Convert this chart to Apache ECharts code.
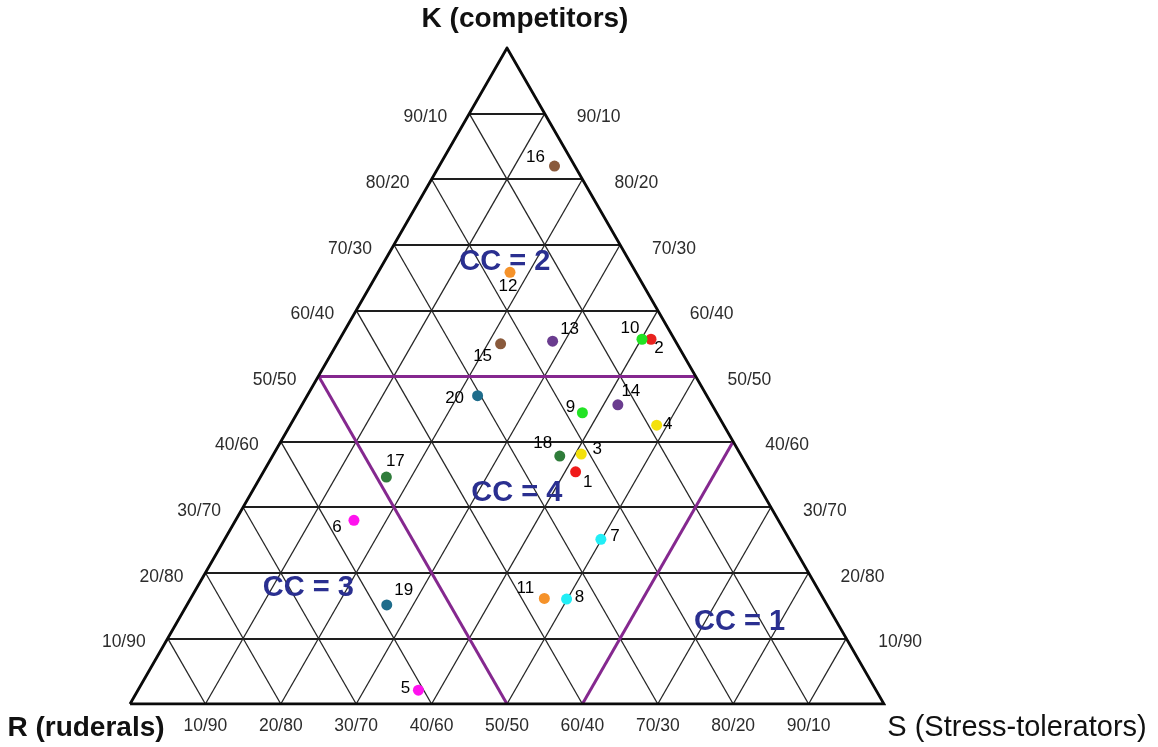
<!DOCTYPE html>
<html>
<head>
<meta charset="utf-8">
<script src="https://cdn.jsdelivr.net/npm/echarts@6/dist/echarts.min.js"></script>
<style>
  html, body { margin: 0; padding: 0; background: #ffffff; }
  #chart { width: 1158px; height: 747px; }
</style>
</head>
<body>
<div id="chart"></div>
<script>
// CSR triangle: K (competitors), R (ruderals), S (stress-tolerators), in percent.
const speciesIds = [1, 2, 3, 4, 5, 6, 7, 8, 9, 10, 11, 12, 13, 14, 15, 16, 17, 18, 19, 20];
const kValues = [35.4, 55.6, 38.1, 42.5, 2.1, 28.0, 25.1, 16.0, 44.4, 55.6, 16.1, 65.8, 55.3, 45.6, 54.9, 82.0, 34.6, 37.8, 15.1, 47.0];
const sValues = [41.4, 41.3, 40.8, 48.6, 37.2, 15.7, 49.9, 49.9, 37.8, 40.1, 46.9, 17.5, 28.4, 41.9, 21.7, 15.3, 16.7, 38.1, 26.5, 22.6];
const rValues = [23.2, 3.1, 21.1, 8.9, 60.7, 56.3, 25.0, 34.1, 17.8, 4.3, 37.0, 16.7, 16.3, 12.5, 23.4, 2.7, 48.7, 24.1, 58.4, 30.4];

// Gridline levels and their tick labels (value / complement)
const tickValues = [10, 20, 30, 40, 50, 60, 70, 80, 90];
const tickLabels = ['10/90', '20/80', '30/70', '40/60', '50/50', '60/40', '70/30', '80/20', '90/10'];

// Competition-class regions: name with a ternary anchor (K, S)
const regionNames = ['CC = 2', 'CC = 4', 'CC = 3', 'CC = 1'];
const regionK = [67.4, 32.2, 17.7, 12.5];
const regionS = [16.0, 35.2, 14.8, 74.6];

// Corner titles
const cornerTitles = ['K (competitors)', 'R (ruderals)', 'S (Stress-tolerators)'];

// ---- styling ----
const pointColors = ['#f01a1a', '#e8221e', '#f4e10c', '#f4e10c', '#ff12ee', '#ff12ee', '#22eef6', '#22eef6',
  '#22e324', '#22e324', '#f5922a', '#f5922a', '#6a3c8f', '#6a3c8f', '#8a5a3c', '#8a5a3c',
  '#2f7c3a', '#2f7c3a', '#1e6c8b', '#1e6c8b'];
const labelNudge = {
  1: [12, 11], 2: [8, 9], 3: [16, -5], 4: [11, -1], 5: [-13, -2], 6: [-17, 7], 7: [14, -3],
  8: [13, -2], 9: [-12, -5], 10: [-12, -11], 11: [-19, -10], 12: [-2, 14], 13: [17, -12],
  14: [13, -14], 15: [-18, 12], 16: [-19, -9], 17: [9, -16], 18: [-17, -13], 19: [17, -15], 20: [-23, 3]
};

// ternary (K, S, R) -> plane (x along base toward S, y = K height)
function toXY(k, s, r) {
  const t = k + s + (r === undefined ? 100 - k - s : r);
  const kk = k / t * 100, ss = s / t * 100;
  return [ss + kk / 2, kk];
}

// interior grid
const hLines = tickValues.map(k => ({ coords: [toXY(k, 0), toXY(k, 100 - k)] }));
const sLines = tickValues.map(s => ({ coords: [toXY(0, s), toXY(100 - s, s)] }));
const rLines = tickValues.map(r => ({ coords: [toXY(0, 100 - r), toXY(100 - r, 0)] }));

// class boundaries: K = 50, R = 50 (down to the base) and S = 60
const classLines = [
  { coords: [toXY(50, 0), toXY(50, 50)] },
  { coords: [toXY(50, 0), toXY(0, 50)] },
  { coords: [toXY(0, 60), toXY(40, 60)] }
];

const outline = [{ coords: [toXY(0, 0), toXY(0, 100), toXY(100, 0), toXY(0, 0)] }];

const FONT = 'Liberation Sans, Arial, sans-serif';
const tickFont = { fontFamily: FONT, fontSize: 17.5, color: '#2c2c2c' };

const leftTicks = tickValues.map((k, i) => ({
  value: toXY(k, 0),
  label: { formatter: tickLabels[i], position: 'left', distance: 22, offset: [0, 4] }
}));
const rightTicks = tickValues.map((k, i) => ({
  value: toXY(k, 100 - k),
  label: { formatter: tickLabels[i], position: 'right', distance: 32, offset: [0, 4] }
}));
const baseTicks = tickValues.map((s, i) => ({
  value: toXY(0, s),
  label: { formatter: tickLabels[i], position: 'bottom', distance: 13 }
}));

const regionData = regionNames.map((n, i) => ({ value: toXY(regionK[i], regionS[i]), name: n }));

const cornerData = [
  { value: toXY(100, 0), label: { formatter: cornerTitles[0], offset: [18, -29], fontWeight: 'bold', fontSize: 28 } },
  { value: toXY(0, 0), label: { formatter: cornerTitles[1], offset: [-44, 24], fontWeight: 'bold', fontSize: 28 } },
  { value: toXY(0, 100), label: { formatter: cornerTitles[2], offset: [133, 24], fontWeight: 'normal', fontSize: 29 } }
];

const pointData = speciesIds.map((id, i) => ({
  value: toXY(kValues[i], sValues[i], rValues[i]),
  name: String(id),
  itemStyle: { color: pointColors[i] },
  label: { offset: labelNudge[id] }
}));

const chart = echarts.init(document.getElementById('chart'), null, { renderer: 'canvas' });
chart.setOption({
  animation: false,
  backgroundColor: '#ffffff',
  grid: { left: 130, right: 274, top: 48, bottom: 43 },
  xAxis: { type: 'value', min: 0, max: 100, show: false },
  yAxis: { type: 'value', min: 0, max: 100, show: false },
  series: [
    {
      type: 'lines', coordinateSystem: 'cartesian2d', silent: true, z: 1,
      lineStyle: { color: '#1e1e1e', width: 1.9, opacity: 1 },
      data: hLines
    },
    {
      type: 'lines', coordinateSystem: 'cartesian2d', silent: true, z: 1,
      lineStyle: { color: '#262626', width: 1.3, opacity: 1 },
      data: sLines.concat(rLines)
    },
    {
      type: 'lines', coordinateSystem: 'cartesian2d', silent: true, z: 2,
      lineStyle: { color: '#85288f', width: 3, opacity: 1 },
      data: classLines
    },
    {
      type: 'lines', coordinateSystem: 'cartesian2d', polyline: true, silent: true, z: 3,
      lineStyle: { color: '#0a0a0a', width: 2.8, opacity: 1, join: 'miter' },
      data: outline
    },
    {
      type: 'scatter', symbolSize: 0, silent: true, z: 4,
      itemStyle: { opacity: 1 },
      label: Object.assign({ show: true }, tickFont),
      data: leftTicks.concat(rightTicks, baseTicks)
    },
    {
      type: 'scatter', symbolSize: 0, silent: true, z: 4,
      itemStyle: { opacity: 1 },
      label: {
        show: true, position: 'inside', formatter: '{b}',
        fontFamily: FONT, fontSize: 29, fontWeight: 'bold', color: '#2a2f90'
      },
      data: regionData
    },
    {
      type: 'scatter', symbolSize: 0, silent: true, z: 4,
      itemStyle: { opacity: 1 },
      label: { show: true, position: 'inside', fontFamily: FONT, color: '#111111' },
      data: cornerData
    },
    {
      type: 'scatter', symbol: 'circle', symbolSize: 11, z: 5,
      itemStyle: { opacity: 1 },
      label: {
        show: true, position: 'inside', formatter: '{b}',
        fontFamily: FONT, fontSize: 17, color: '#000000'
      },
      data: pointData
    }
  ]
});
</script>
</body>
</html>
